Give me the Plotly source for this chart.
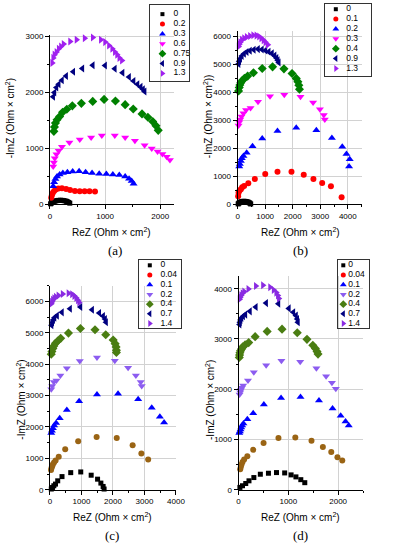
import plotly.graph_objects as go

# ---------------- data ----------------
a_labels = ["0", "0.2", "0.3", "0.6", "0.75", "0.9", "1.3"]
a0_x = [12, 25, 41, 60, 80, 105, 130, 160, 190, 220, 250, 275, 300, 320, 340, 360]
a0_y = [10, 22, 35, 45, 55, 62, 68, 72, 74, 72, 68, 62, 55, 45, 35, 22]
a1_x = [23, 35, 53, 76, 106, 153, 218, 294, 365, 453, 541, 629, 717, 817]
a1_y = [118, 165, 206, 241, 265, 282, 288, 276, 259, 241, 235, 235, 235, 229]
a2_x = [59, 76, 100, 129, 176, 235, 317, 412, 529, 647, 764, 894, 1023, 1141, 1258, 1364, 1435, 1482, 1517]
a2_y = [323, 394, 453, 500, 535, 559, 576, 588, 594, 576, 559, 547, 541, 535, 523, 500, 459, 417, 370]
a3_x = [59, 71, 88, 118, 159, 218, 353, 541, 747, 941, 1176, 1364, 1541, 1717, 1846, 1952, 2040, 2117, 2176]
a3_y = [676, 747, 823, 894, 958, 1029, 1105, 1158, 1194, 1229, 1229, 1194, 1135, 1058, 1000, 947, 900, 853, 794]
a4_x = [71, 82, 100, 129, 176, 229, 306, 406, 570, 776, 982, 1188, 1364, 1511, 1670, 1776, 1864, 1923, 1964]
a4_y = [1305, 1382, 1452, 1511, 1570, 1646, 1700, 1760, 1805, 1840, 1876, 1846, 1782, 1705, 1617, 1558, 1482, 1405, 1323]
a5_x = [59, 82, 118, 159, 218, 294, 423, 588, 776, 1000, 1176, 1317, 1435, 1517, 1588, 1646, 1688, 1717]
a5_y = [1923, 1999, 2087, 2146, 2217, 2293, 2370, 2428, 2487, 2481, 2423, 2352, 2276, 2205, 2146, 2099, 2058, 2017]
a6_x = [41, 59, 82, 118, 159, 200, 247, 365, 482, 629, 776, 923, 1000, 1070, 1129, 1176, 1217, 1258, 1305]
a6_y = [2528, 2617, 2675, 2722, 2781, 2822, 2864, 2911, 2940, 2969, 2981, 2940, 2899, 2840, 2781, 2722, 2675, 2617, 2570]

b_labels = ["0", "0.1", "0.2", "0.3", "0.4", "0.9", "1.3"]
b0_x = [20, 40, 65, 95, 130, 170, 215, 260, 305, 345, 385, 420, 450, 475]
b0_y = [15, 40, 62, 80, 95, 105, 110, 110, 104, 95, 80, 62, 40, 15]
b1_x = [20, 35, 71, 120, 166, 237, 388, 625, 1003, 1448, 1956, 2400, 2752, 3070, 3387, 3775]
b1_y = [290, 420, 495, 540, 610, 660, 755, 910, 1090, 1165, 1165, 1058, 906, 764, 647, 259]
b2_x = [59, 82, 118, 153, 212, 329, 541, 894, 1447, 2129, 2858, 3422, 3799, 3951, 4069, 4046]
b2_y = [1352, 1447, 1552, 1646, 1729, 1846, 2082, 2352, 2622, 2740, 2646, 2376, 2058, 1799, 1611, 1352]
b3_x = [35, 59, 94, 141, 212, 306, 470, 741, 1176, 1694, 2282, 2740, 2987, 3129, 3164]
b3_y = [2822, 2940, 3034, 3140, 3258, 3375, 3446, 3669, 3869, 3916, 3846, 3646, 3399, 3199, 3034]
b4_x = [35, 59, 82, 118, 176, 247, 365, 576, 894, 1270, 1682, 1976, 2129, 2188, 2223, 2246]
b4_y = [4057, 4175, 4269, 4351, 4434, 4504, 4586, 4704, 4857, 4916, 4845, 4680, 4504, 4386, 4257, 4116]
b5_x = [35, 59, 94, 153, 235, 329, 447, 588, 741, 882, 1011, 1129, 1247, 1341, 1411, 1458, 1494]
b5_y = [5022, 5116, 5210, 5304, 5386, 5445, 5492, 5527, 5551, 5539, 5504, 5457, 5398, 5316, 5233, 5151, 5069]
b6_x = [35, 59, 94, 153, 235, 329, 447, 565, 682, 776, 859, 941, 1011, 1094]
b6_y = [5645, 5727, 5798, 5880, 5939, 5986, 6021, 6045, 6033, 5998, 5939, 5868, 5798, 5704]

c_labels = ["0", "0.04", "0.1", "0.2", "0.4", "0.7", "1.4"]
c0_x = [43, 83, 124, 176, 247, 383, 660, 978, 1309, 1512, 1617, 1688, 1719]
c0_y = [22, 72, 126, 179, 283, 418, 544, 566, 462, 336, 211, 104, 22]
c1_x = [35, 50, 70, 95, 130, 180, 279, 485, 896, 1482, 2120, 2625, 2902, 3118]
c1_y = [630, 690, 750, 810, 870, 930, 1047, 1290, 1541, 1677, 1645, 1415, 1153, 964]
c2_x = [42, 63, 94, 135, 196, 310, 536, 927, 1493, 2162, 2800, 3232, 3489, 3623]
c2_y = [1803, 1876, 1960, 2044, 2127, 2274, 2536, 2819, 3029, 3060, 2882, 2610, 2327, 2138]
c3_x = [42, 73, 124, 206, 331, 537, 948, 1493, 2059, 2481, 2728, 2882, 2913]
c3_y = [3196, 3301, 3427, 3480, 3637, 3867, 4098, 4213, 4108, 3888, 3637, 3427, 3301]
c4_x = [42, 63, 94, 124, 176, 248, 341, 588, 968, 1431, 1771, 2008, 2070, 2100, 2110, 2110]
c4_y = [4318, 4402, 4496, 4580, 4664, 4737, 4821, 4988, 5135, 5093, 4936, 4768, 4653, 4548, 4443, 4370]
c5_x = [52, 73, 104, 145, 227, 382, 639, 968, 1339, 1565, 1689, 1750, 1781]
c5_y = [5240, 5324, 5408, 5481, 5544, 5649, 5764, 5817, 5733, 5628, 5533, 5439, 5334]
c6_x = [42, 63, 94, 135, 186, 268, 402, 587, 700, 772, 834, 886, 927]
c6_y = [5921, 5984, 6047, 6099, 6141, 6183, 6236, 6257, 6225, 6173, 6110, 6036, 5963]

d_labels = ["0", "0.04", "0.1", "0.2", "0.4", "0.7", "1.4"]
d0_x = [27, 79, 144, 209, 307, 437, 600, 762, 926, 1055, 1152, 1250, 1330]
d0_y = [46, 79, 124, 177, 242, 308, 328, 341, 334, 295, 255, 200, 140]
d1_x = [33, 46, 59, 79, 111, 176, 294, 502, 801, 1140, 1465, 1693, 1862, 1986, 2083]
d1_y = [406, 459, 504, 550, 603, 668, 793, 930, 1028, 1041, 976, 852, 753, 648, 583]
d2_x = [14, 27, 40, 53, 72, 98, 176, 294, 508, 853, 1244, 1615, 1888, 2051, 2148, 2213]
d2_y = [1127, 1159, 1199, 1238, 1277, 1317, 1402, 1520, 1696, 1827, 1847, 1775, 1618, 1474, 1356, 1277]
d3_x = [20, 33, 46, 66, 92, 189, 306, 554, 860, 1238, 1563, 1758, 1875, 1953]
d3_y = [1893, 1939, 1985, 2031, 2076, 2175, 2338, 2476, 2568, 2548, 2417, 2260, 2129, 2011]
d4_x = [14, 20, 27, 40, 59, 85, 131, 203, 333, 574, 873, 1179, 1374, 1491, 1543, 1576, 1596]
d4_y = [2633, 2679, 2725, 2764, 2803, 2843, 2882, 2928, 3046, 3151, 3196, 3124, 2993, 2875, 2810, 2751, 2699]
d5_x = [20, 27, 40, 59, 92, 137, 228, 346, 554, 801, 1010, 1101, 1153, 1179, 1192]
d5_y = [3288, 3334, 3380, 3419, 3452, 3485, 3550, 3635, 3714, 3701, 3609, 3530, 3465, 3399, 3334]
d6_x = [20, 33, 53, 79, 111, 196, 346, 489, 632, 704, 756, 788, 808]
d6_y = [3792, 3832, 3871, 3910, 3943, 3996, 4054, 4068, 4028, 3976, 3923, 3865, 3806]

x_tick_step = 1000
y_tick_step = 1000
x_ranges = {"a": [0, 2250], "b": [0, 4500], "c": [0, 4000], "d": [0, 2500]}
y_ranges = {"a": [0, 3030], "b": [0, 6200], "c": [0, 6500], "d": [0, 4250]}

# ---------------- styles ----------------
W, H = 398, 550
symbols = ["square", "circle", "triangle-up", "triangle-down", "diamond", "triangle-left", "triangle-right"]
sizes = [5, 6, 7, 7, 7, 7, 7]
colors_ab = ["#000000", "#ff0000", "#0000ff", "#ff00ff", "#008000", "#000080", "#a020f0"]
colors_cd_plot = ["#000000", "#9a6414", "#0000ff", "#8c5cf0", "#4a7d12", "#000080", "#8a2be2"]
colors_cd_leg = ["#000000", "#ff0000", "#0000ff", "#8c5cf0", "#4a7d12", "#000080", "#8a2be2"]

FONT = "Arial, Liberation Sans, sans-serif"


def dom_x(l, r):
    return [l / W, r / W]


def dom_y(top, bottom):
    return [1 - bottom / H, 1 - top / H]


panels = {
    "a": dict(n=1, xd=dom_x(49.3, 176.9), yd=dom_y(33.2, 205), labels=a_labels,
              series=[(a0_x, a0_y), (a1_x, a1_y), (a2_x, a2_y), (a3_x, a3_y), (a4_x, a4_y), (a5_x, a5_y), (a6_x, a6_y)],
              pc=colors_ab, lc=colors_ab,
              leg=dict(l=152.7, r=192.7, t=3.3, b=80, m=165, tx=176.5, first=9.0, step=10.0),
              ytitle="-ImZ (Ohm × cm<sup>2</sup>)", ytx=8.5, yty=117.5, xtx=112.8, xty=233.3, lab="(a)", labx=116.7, laby=251.7),
    "b": dict(n=2, xd=dom_x(242.3, 369.8), yd=dom_y(29.3, 205), labels=b_labels,
              series=[(b0_x, b0_y), (b1_x, b1_y), (b2_x, b2_y), (b3_x, b3_y), (b4_x, b4_y), (b5_x, b5_y), (b6_x, b6_y)],
              pc=colors_ab, lc=colors_ab,
              leg=dict(l=332.3, r=379, t=1.7, b=75, m=343.3, tx=354, first=5.6, step=10.0),
              ytitle="-ImZ (Ohm × cm<sup>2</sup>))", ytx=211.5, yty=116, xtx=306.5, xty=233.3, lab="(b)", labx=306.5, laby=251.7),
    "c": dict(n=3, xd=dom_x(49.3, 178.9), yd=dom_y(287.3, 494), labels=c_labels,
              series=[(c0_x, c0_y), (c1_x, c1_y), (c2_x, c2_y), (c3_x, c3_y), (c4_x, c4_y), (c5_x, c5_y), (c6_x, c6_y)],
              pc=colors_cd_plot, lc=colors_cd_leg,
              leg=dict(l=141, r=184, t=261, b=330, m=152, tx=163, first=5.7, step=9.83),
              ytitle="-ImZ (Ohm × cm<sup>2</sup>)", ytx=19.3, yty=403, xtx=114, xty=521.7, lab="(c)", labx=113.3, laby=540),
    "d": dict(n=4, xd=dom_x(243.3, 371.3), yd=dom_y(277.7, 494), labels=d_labels,
              series=[(d0_x, d0_y), (d1_x, d1_y), (d2_x, d2_y), (d3_x, d3_y), (d4_x, d4_y), (d5_x, d5_y), (d6_x, d6_y)],
              pc=colors_cd_plot, lc=colors_cd_leg,
              leg=dict(l=346, r=377, t=261, b=330, m=351, tx=356, first=5.7, step=9.83),
              ytitle="-ImZ (Ohm × cm<sup>2</sup>)", ytx=214, yty=403, xtx=306.5, xty=521.7, lab="(d)", labx=307.3, laby=540),
}

fig = go.Figure()
layout = dict(width=W, height=H, margin=dict(l=0, r=0, t=0, b=0), paper_bgcolor="white",
              plot_bgcolor="rgba(0,0,0,0)", showlegend=False, font=dict(family=FONT, color="black"))
annotations = []


def axis_style(domain, rng, dtick):
    return dict(domain=domain, range=rng, dtick=dtick, tick0=0, showline=True, linecolor="black",
                linewidth=1, ticks="outside", ticklen=4, tickwidth=1, tickcolor="black",
                minor=dict(ticks="outside", ticklen=2, tickwidth=1, tickcolor="black", dtick=dtick / 2, showgrid=False),
                showgrid=True, gridcolor="#d2d2d2", gridwidth=1, zeroline=False,
                tickfont=dict(family=FONT, size=8, color="black"), fixedrange=True)


for key, p in panels.items():
    n = p["n"]
    xa = "x" if n == 1 else f"x{n}"
    ya = "y" if n == 1 else f"y{n}"
    xname = "xaxis" if n == 1 else f"xaxis{n}"
    yname = "yaxis" if n == 1 else f"yaxis{n}"
    layout[xname] = axis_style(p["xd"], x_ranges[key], x_tick_step)
    layout[xname]["anchor"] = ya
    layout[yname] = axis_style(p["yd"], y_ranges[key], y_tick_step)
    layout[yname]["anchor"] = xa

    for i, (sx, sy) in enumerate(p["series"]):
        fig.add_trace(go.Scatter(x=sx, y=sy, mode="markers", xaxis=xa, yaxis=ya, cliponaxis=False,
                                 name=p["labels"][i],
                                 marker=dict(symbol=symbols[i], size=sizes[i], color=p["pc"][i], line=dict(width=0))))

    # legend box drawn as a small categorical axis
    lg = p["leg"]
    ln = n + 4
    lxa, lya = f"x{ln}", f"y{ln}"
    nlab = len(p["labels"])
    box_h = lg["b"] - lg["t"]
    top_u = -lg["first"] / lg["step"]
    bot_u = (nlab - 1) + (box_h - lg["first"] - (nlab - 1) * lg["step"]) / lg["step"]
    layout[f"xaxis{ln}"] = dict(domain=dom_x(lg["l"], lg["r"]), range=[lg["l"] - lg["m"], lg["r"] - lg["m"]],
                                anchor=lya, showline=True, mirror=True, linecolor="#333333", linewidth=1,
                                showgrid=False, zeroline=False, showticklabels=False, ticks="", fixedrange=True)
    layout[f"yaxis{ln}"] = dict(domain=dom_y(lg["t"], lg["b"]), range=[bot_u, top_u], type="category",
                                categoryorder="array", categoryarray=p["labels"],
                                anchor=lxa, showline=True, mirror=True, linecolor="#333333", linewidth=1,
                                showgrid=False, zeroline=False, showticklabels=False, ticks="", fixedrange=True)
    for i, lab in enumerate(p["labels"]):
        fig.add_trace(go.Scatter(x=[0], y=[lab], mode="markers", xaxis=lxa, yaxis=lya, cliponaxis=False,
                                 marker=dict(symbol=symbols[i], size=sizes[i] - 1, color=p["lc"][i], line=dict(width=0)),
                                 hoverinfo="skip"))
    fig.add_trace(go.Scatter(x=[lg["tx"] - lg["m"]] * nlab, y=p["labels"], mode="text", text=p["labels"],
                             textposition="middle right", xaxis=lxa, yaxis=lya, cliponaxis=False,
                             textfont=dict(family=FONT, size=8.5, color="black"), hoverinfo="skip"))

    annotations.append(dict(text=p["ytitle"], x=p["ytx"] / W, y=1 - p["yty"] / H, xref="paper", yref="paper",
                            showarrow=False, textangle=-90, xanchor="center", yanchor="middle",
                            font=dict(family=FONT, size=10, color="black")))
    annotations.append(dict(text="ReZ (Ohm × cm<sup>2</sup>)", x=p["xtx"] / W, y=1 - p["xty"] / H, xref="paper",
                            yref="paper", showarrow=False, xanchor="center", yanchor="middle",
                            font=dict(family=FONT, size=10, color="black")))
    annotations.append(dict(text=p["lab"], x=p["labx"] / W, y=1 - p["laby"] / H, xref="paper", yref="paper",
                            showarrow=False, xanchor="center", yanchor="middle",
                            font=dict(family="Liberation Serif, Times New Roman, serif", size=13, color="black")))

layout["annotations"] = annotations
fig.update_layout(**layout)
fig.write_html("out.html", config={"displayModeBar": False, "staticPlot": True},
               post_script="document.body.style.margin='0';document.body.style.padding='0';")
